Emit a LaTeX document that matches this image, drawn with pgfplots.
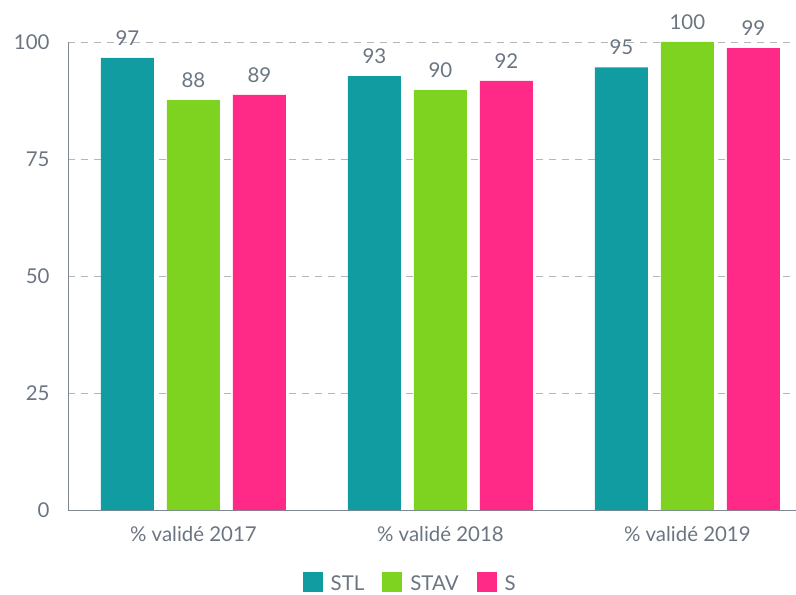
\documentclass[border=0pt]{standalone}
\usepackage{fontspec}
\setmainfont{Lato}
\usepackage{pgfplots}
\pgfplotsset{compat=1.18}
\definecolor{cSTL}{HTML}{109CA1}
\definecolor{cSTAV}{HTML}{7ED321}
\definecolor{cS}{HTML}{FF2A88}
\definecolor{txt}{HTML}{6B7582}
\definecolor{axl}{HTML}{7F8791}
\definecolor{grd}{HTML}{B4B8BD}
\begin{document}
\begin{tikzpicture}
\begin{axis}[
  scale only axis,
  width=728bp, height=468bp,
  xmin=-0.508, xmax=2.44,
  ymin=0, ymax=100,
  ybar, bar width=53bp,
  clip=false,
  axis x line*=bottom, axis y line*=left,
  axis line style={axl, line width=1pt, -},
  xtick={0,1,2},
  xticklabels={\% validé 2017,\% validé 2018,\% validé 2019},
  ytick={0,25,50,75,100},
  major tick length=0pt,
  ymajorgrids,
  grid style={grd, dashed, line width=0.9pt, dash pattern=on 7bp off 6bp},
  tick label style={font=\fontsize{20.5}{24}\selectfont, text=txt},
  /pgf/number format/assume math mode=true,
  xticklabel style={yshift=-13bp},
  yticklabel style={xshift=-15bp},
  nodes near coords={\pgfmathprintnumber[fixed,precision=0]{\pgfplotspointmeta}},
  every node near coord/.append style={font=\fontsize{20.5}{24}\selectfont, text=txt, anchor=base, yshift=12.5bp, inner sep=0pt},
  legend columns=3,
  legend style={draw=none, fill=none, at={(0.47,-0.156)}, anchor=center,
    font=\fontsize{20.5}{24}\selectfont, text=txt,
    /tikz/every odd column/.append style={column sep=6bp},
    /tikz/every even column/.append style={column sep=16bp}},
  legend image code/.code={\fill[#1] (0bp,-9bp) rectangle (20bp,11bp);},
]
\addplot[fill=cSTL, draw=none, bar shift=-66bp] coordinates {(0,96.6) (1,92.7) (2,94.6)};
\addplot[fill=cSTAV, draw=none, bar shift=0bp] coordinates {(0,87.6) (1,89.7) (2,100)};
\addplot[fill=cS, draw=none, bar shift=66bp] coordinates {(0,88.7) (1,91.7) (2,98.7)};
\legend{STL,STAV,S}
\coordinate (O) at (rel axis cs:0,0);
\end{axis}
\pgfresetboundingbox
\path ([shift={(-68bp,-85bp)}]O) rectangle ([shift={(728bp,510bp)}]O);
\end{tikzpicture}
\end{document}
